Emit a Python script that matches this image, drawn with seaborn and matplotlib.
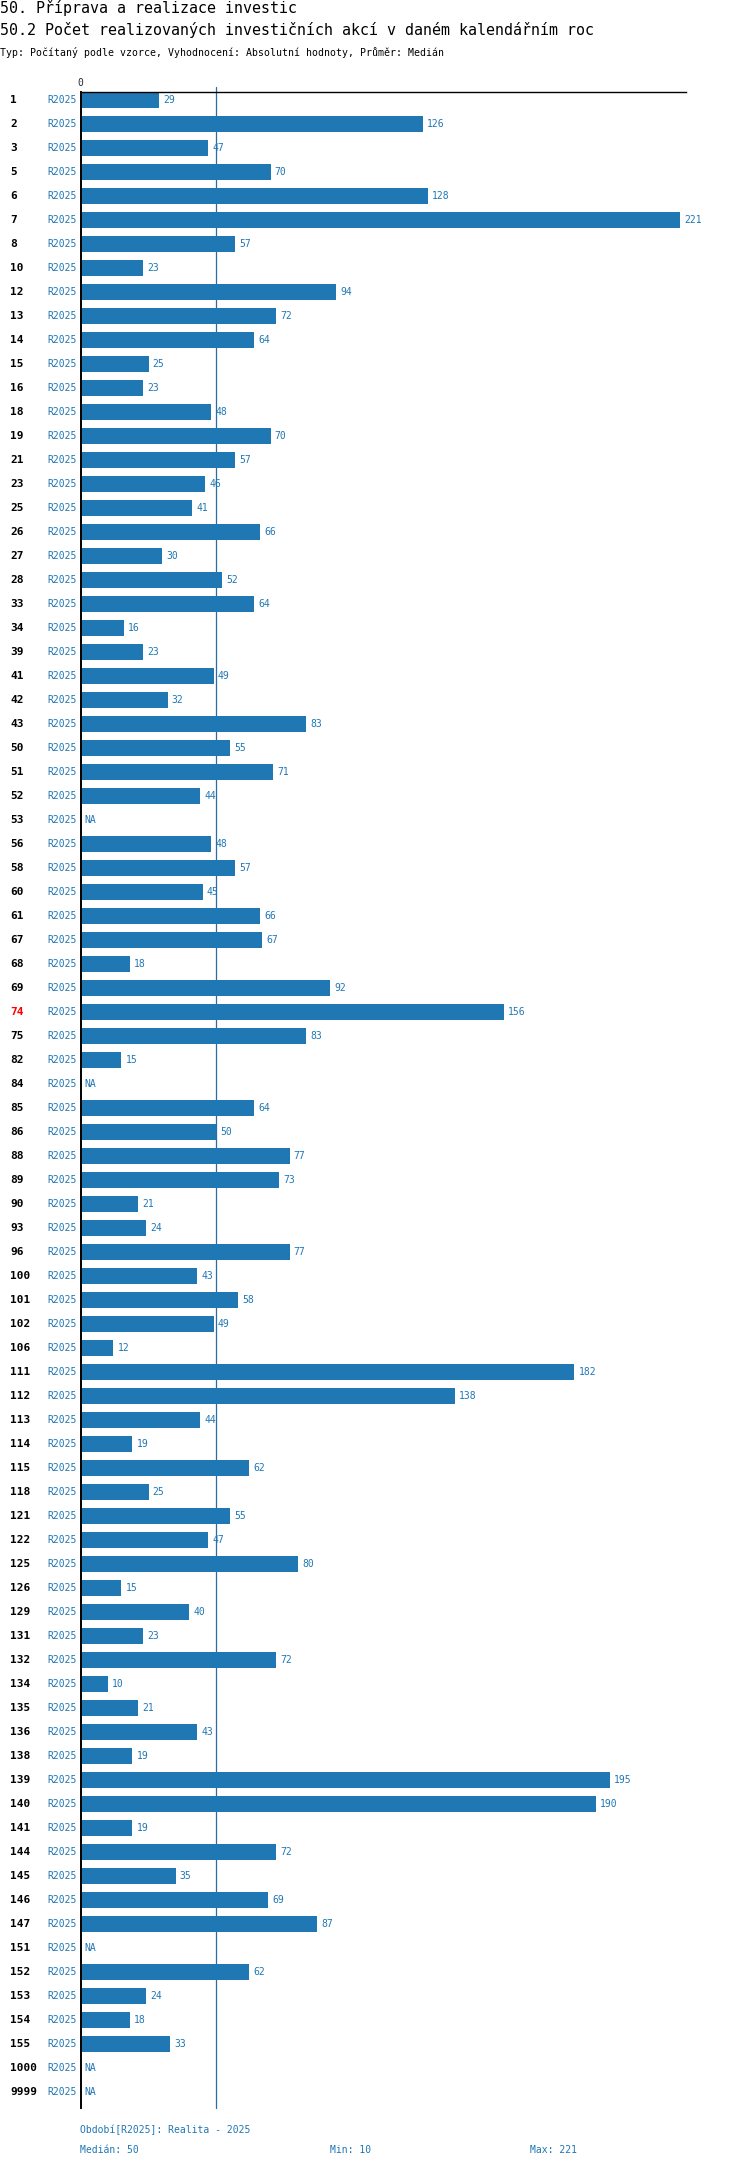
import matplotlib
matplotlib.use("Agg")
import matplotlib.pyplot as plt
import matplotlib.transforms as mtransforms
import seaborn as sns
import pandas as pd
import numpy as np

# chart data
rows = ["1", "2", "3", "5", "6", "7", "8", "10", "12", "13", "14", "15", "16", "18", "19",
        "21", "23", "25", "26", "27", "28", "33", "34", "39", "41", "42", "43", "50", "51",
        "52", "53", "56", "58", "60", "61", "67", "68", "69", "74", "75", "82", "84", "85",
        "86", "88", "89", "90", "93", "96", "100", "101", "102", "106", "111", "112", "113",
        "114", "115", "118", "121", "122", "125", "126", "129", "131", "132", "134", "135",
        "136", "138", "139", "140", "141", "144", "145", "146", "147", "151", "152", "153",
        "154", "155", "1000", "9999"]
values = [29, 126, 47, 70, 128, 221, 57, 23, 94, 72, 64, 25, 23, 48, 70,
          57, 46, 41, 66, 30, 52, 64, 16, 23, 49, 32, 83, 55, 71,
          44, None, 48, 57, 45, 66, 67, 18, 92, 156, 83, 15, None, 64,
          50, 77, 73, 21, 24, 77, 43, 58, 49, 12, 182, 138, 44,
          19, 62, 25, 55, 47, 80, 15, 40, 23, 72, 10, 21,
          43, 19, 195, 190, 19, 72, 35, 69, 87, None, 62, 24,
          18, 33, None, None]
period = "R2025"
highlight = "74"
title1 = "50. Příprava a realizace investic"
title2 = "50.2 Počet realizovaných investičních akcí v daném kalendářním roc"
subtitle = "Typ: Počítaný podle vzorce, Vyhodnocení: Absolutní hodnoty, Průměr: Medián"
period_note = "Období[R2025]: Realita - 2025"

df = pd.DataFrame({"row": rows, "value": pd.array(values, dtype="Float64").astype(float)})

blue = "#1f77b4"
W, H = 750, 2168

sns.set_style("white")
plt.rcParams["font.family"] = ["DejaVu Sans Mono", "DejaVu Sans"]

fig = plt.figure(figsize=(W / 100, H / 100), dpi=100)
ax_left, ax_right = 80.7, 685.7
ax_top, ax_bot = 92.3, 2108
ax = fig.add_axes([ax_left / W, 1 - ax_bot / H, (ax_right - ax_left) / W, (ax_bot - ax_top) / H])

sns.barplot(data=df, x="value", y="row", order=rows, color=blue, saturation=1,
            width=0.667, errorbar=None, linewidth=0, ax=ax, zorder=2)

n = len(rows)
ax.set_ylim(n - 1 + 16 / 24, -7.7 / 24)
ax.set_xlim(0, 223)

med = float(np.nanmedian(df["value"]))
vmin = df["value"].min()
vmax = df["value"].max()
# median marker line, sits behind the bars
ax.axvline(med, ymin=0, ymax=1.0028, color="#2b6ca3", lw=0.9, zorder=1, clip_on=False)

for s in ["right", "bottom"]:
    ax.spines[s].set_visible(False)
ax.spines["top"].set_color("black")
ax.spines["top"].set_linewidth(1.0)
ax.spines["left"].set_color("black")
ax.spines["left"].set_linewidth(1.4)
ax.spines["left"].set_zorder(3)

ax.xaxis.set_ticks_position("top")
ax.set_xticks([0])
ax.set_xticklabels(["0"])
ax.tick_params(axis="x", length=0, pad=3, labelsize=7)
ax.set_yticks([])
ax.set_xlabel("")
ax.set_ylabel("")

trans = mtransforms.blended_transform_factory(ax.transAxes, ax.transData)
x_id = (10 - ax_left) / (ax_right - ax_left)
x_per = (77 - ax_left) / (ax_right - ax_left)
for i, (r, v) in enumerate(zip(df["row"], df["value"])):
    ax.text(x_id, i, r, transform=trans, ha="left", va="center", fontsize=8,
            fontweight="bold", color="red" if r == highlight else "black")
    ax.text(x_per, i, period, transform=trans, ha="right", va="center", fontsize=7, color=blue)
    if np.isnan(v):
        ax.annotate("NA", xy=(0, i), xytext=(3, 0), textcoords="offset points",
                    ha="left", va="center", fontsize=7, color=blue)
    else:
        ax.annotate(f"{int(v)}", xy=(v, i), xytext=(3, 0), textcoords="offset points",
                    ha="left", va="center", fontsize=7, color=blue)

fig.text(0, 1 - 8 / H, title1, ha="left", va="center", fontsize=10.8, color="black")
fig.text(0, 1 - 30 / H, title2, ha="left", va="center", fontsize=10.8, color="black")
fig.text(0, 1 - 52 / H, subtitle, ha="left", va="center", fontsize=7.1, color="black")

fig.text(80 / W, 1 - 2130 / H, period_note, ha="left", va="center", fontsize=7, color=blue)
fig.text(80 / W, 1 - 2150 / H, f"Medián: {med:g}", ha="left", va="center", fontsize=7, color=blue)
fig.text(330 / W, 1 - 2150 / H, f"Min: {vmin:g}", ha="left", va="center", fontsize=7, color=blue)
fig.text(530 / W, 1 - 2150 / H, f"Max: {vmax:g}", ha="left", va="center", fontsize=7, color=blue)

fig.savefig("out.png", dpi=100)
